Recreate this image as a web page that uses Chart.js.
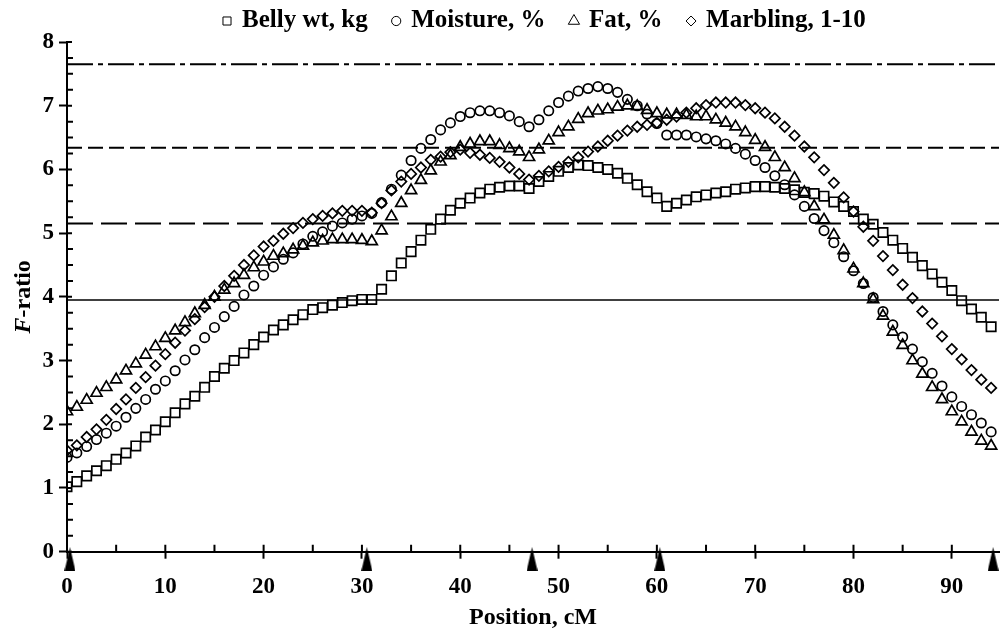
<!DOCTYPE html>
<html>
<head>
<meta charset="utf-8">
<script src="https://cdn.jsdelivr.net/npm/chart.js@4.4.1/dist/chart.umd.min.js"></script>
<style>
  html, body { margin: 0; padding: 0; background: #fff; }
</style>
</head>
<body>
<canvas id="chart" width="1000" height="633"></canvas>
<script>
// positions along the chromosome, cM
const positions = [0,1,2,3,4,5,6,7,8,9,10,11,12,13,14,15,16,17,18,19,20,21,22,23,24,25,26,27,28,29,
  30,31,32,33,34,35,36,37,38,39,40,41,42,43,44,45,46,47,48,49,50,51,52,53,54,55,56,57,58,59,
  60,61,62,63,64,65,66,67,68,69,70,71,72,73,74,75,76,77,78,79,80,81,82,83,84,85,86,87,88,89,
  90,91,92,93,94];

const bellyWt = [1.02,1.10,1.19,1.27,1.35,1.45,1.55,1.66,1.80,1.91,
  2.04,2.18,2.32,2.44,2.58,2.75,2.88,3.00,3.12,3.25,
  3.37,3.48,3.56,3.64,3.72,3.80,3.83,3.87,3.91,3.94,
  3.96,3.96,4.12,4.33,4.53,4.71,4.89,5.06,5.22,5.36,
  5.47,5.55,5.63,5.69,5.72,5.74,5.74,5.70,5.81,5.89,
  5.97,6.03,6.07,6.06,6.03,6.00,5.94,5.86,5.76,5.65,
  5.55,5.42,5.47,5.52,5.57,5.60,5.63,5.65,5.69,5.71,
  5.73,5.73,5.72,5.70,5.68,5.64,5.62,5.58,5.49,5.42,
  5.34,5.22,5.14,5.01,4.89,4.76,4.62,4.49,4.36,4.23,
  4.10,3.94,3.81,3.68,3.53];

const moisture = [1.48,1.55,1.65,1.76,1.86,1.97,2.11,2.25,2.39,2.55,
  2.68,2.84,3.01,3.17,3.36,3.52,3.69,3.85,4.03,4.17,
  4.34,4.47,4.59,4.69,4.83,4.95,5.02,5.11,5.16,5.22,
  5.27,5.31,5.48,5.69,5.91,6.14,6.33,6.47,6.62,6.73,
  6.83,6.89,6.92,6.92,6.89,6.84,6.75,6.67,6.78,6.92,
  7.05,7.15,7.23,7.27,7.30,7.27,7.21,7.10,7.00,6.87,
  6.72,6.54,6.54,6.54,6.51,6.48,6.45,6.40,6.33,6.24,
  6.14,6.03,5.90,5.76,5.60,5.42,5.23,5.04,4.85,4.63,
  4.41,4.21,3.99,3.77,3.56,3.37,3.18,2.98,2.80,2.60,
  2.43,2.28,2.15,2.02,1.88];

const fat = [2.20,2.27,2.38,2.49,2.58,2.70,2.84,2.95,3.09,3.22,
  3.35,3.47,3.60,3.74,3.87,4.00,4.11,4.21,4.34,4.46,
  4.55,4.64,4.68,4.74,4.80,4.85,4.88,4.90,4.90,4.90,
  4.89,4.87,5.04,5.26,5.47,5.67,5.83,5.98,6.12,6.22,
  6.35,6.40,6.44,6.44,6.38,6.33,6.28,6.19,6.31,6.45,
  6.58,6.67,6.79,6.88,6.92,6.94,6.98,7.00,6.99,6.93,
  6.88,6.86,6.86,6.85,6.83,6.83,6.78,6.73,6.67,6.58,
  6.46,6.35,6.19,6.03,5.86,5.64,5.42,5.21,4.97,4.73,
  4.44,4.21,3.96,3.70,3.45,3.24,3.00,2.79,2.58,2.39,
  2.20,2.04,1.88,1.74,1.66];

const marbling = [1.59,1.67,1.80,1.92,2.07,2.24,2.39,2.57,2.74,2.92,
  3.10,3.28,3.47,3.65,3.84,4.00,4.17,4.33,4.50,4.65,
  4.79,4.88,4.99,5.08,5.16,5.22,5.27,5.31,5.35,5.35,
  5.35,5.32,5.47,5.67,5.81,5.93,6.03,6.15,6.20,6.27,
  6.31,6.26,6.23,6.18,6.12,6.03,5.93,5.84,5.90,5.97,
  6.04,6.12,6.19,6.28,6.36,6.45,6.53,6.61,6.67,6.70,
  6.73,6.78,6.83,6.89,6.96,7.01,7.05,7.05,7.05,7.01,
  6.96,6.89,6.80,6.67,6.53,6.36,6.19,5.99,5.79,5.56,
  5.34,5.10,4.88,4.64,4.42,4.19,3.98,3.77,3.58,3.38,
  3.18,3.02,2.85,2.70,2.57];

// significance thresholds (F-ratio)
const thresholds = [3.95, 5.15, 6.34, 7.65];
// marker positions drawn under the x axis
const markerPos = [0.3, 30.5, 47.3, 60.3, 94.2];
const xMax = 94.8;

const serif = '"Liberation Serif", "Times New Roman", serif';
const pts = arr => arr.map((v, i) => ({x: positions[i], y: v}));

// tall filled triangle for the marker symbols
const markerImg = document.createElement('canvas');
markerImg.width = 11;
markerImg.height = 24;
(() => {
  const c = markerImg.getContext('2d');
  c.fillStyle = '#000';
  c.beginPath();
  c.moveTo(5.5, 0);
  c.lineTo(11, 24);
  c.lineTo(0, 24);
  c.closePath();
  c.fill();
})();

function series(label, data, style, radius) {
  return {
    label: label,
    data: pts(data),
    showLine: false,
    pointStyle: style,
    pointRadius: radius,
    borderColor: '#000',
    backgroundColor: 'rgba(0,0,0,0)',
    borderWidth: 1.7,
    inLegend: true
  };
}

const dashes = [[], [26, 8], [15, 6], [26, 5, 5, 5]];
const lineSets = thresholds.map((t, i) => ({
  label: 'thr' + i,
  data: [{x: 0, y: t}, {x: xMax, y: t}],
  showLine: true,
  pointRadius: 0,
  borderColor: '#000',
  borderWidth: i === 0 ? 1.4 : 2,
  borderDash: dashes[i],
  fill: false
}));

// points below the axis need a big radius, or chart.js skips them as "outside the area"
const markerSet = {
  label: 'markers',
  data: markerPos.map(p => ({x: p, y: -0.115})),
  showLine: false,
  pointStyle: markerImg,
  pointRadius: 14,
  borderWidth: 0,
  clip: false
};

// ticks inside the axes + minor ticks
const innerTicks = {
  id: 'innerTicks',
  afterDraw(chart) {
    const {ctx, scales: {x, y}} = chart;
    ctx.save();
    ctx.strokeStyle = '#000';
    ctx.lineWidth = 2;
    ctx.beginPath();
    for (let v = 0; v <= 8; v += 0.25) {
      const py = y.getPixelForValue(v);
      const major = Math.abs(v - Math.round(v)) < 1e-6;
      ctx.moveTo(x.left, py);
      ctx.lineTo(x.left + (major ? 5 : 6), py);
    }
    for (let v = 0; v <= 90; v += 5) {
      const px = x.getPixelForValue(v);
      ctx.moveTo(px, y.bottom);
      ctx.lineTo(px, y.bottom - 7);
    }
    ctx.stroke();
    ctx.restore();
  }
};

const yTitle = {
  id: 'yTitle',
  afterDraw(chart) {
    const {ctx, chartArea} = chart;
    const f1 = 'italic bold 24px ' + serif;
    const f2 = 'bold 24px ' + serif;
    ctx.save();
    ctx.translate(24, (chartArea.top + chartArea.bottom) / 2);
    ctx.rotate(-Math.PI / 2);
    ctx.fillStyle = '#000';
    ctx.textBaseline = 'middle';
    ctx.font = f1;
    const w1 = ctx.measureText('F').width;
    ctx.font = f2;
    const w2 = ctx.measureText('-ratio').width;
    const sx = -(w1 + w2) / 2;
    ctx.font = f1;
    ctx.fillText('F', sx, 0);
    ctx.font = f2;
    ctx.fillText('-ratio', sx + w1, 0);
    ctx.restore();
  }
};

const topLegend = {
  id: 'topLegend',
  afterDraw(chart) {
    const ctx = chart.ctx;
    const items = chart.data.datasets.filter(d => d.inLegend);
    const sizes = {rect: 5.7, circle: 4.6, triangle: 6.5, rectRot: 5};
    const gapText = 15, gapItem = 28.5, yc = 21;
    const font = 'bold 25px ' + serif;
    ctx.save();
    let x = 227;
    items.forEach(d => {
      ctx.strokeStyle = '#000';
      ctx.fillStyle = 'rgba(0,0,0,0)';
      Chart.helpers.drawPoint(ctx, {pointStyle: d.pointStyle, radius: sizes[d.pointStyle], borderWidth: 1.6}, x, yc);
      ctx.fillStyle = '#000';
      ctx.textBaseline = 'middle';
      ctx.textAlign = 'left';
      ctx.font = font;
      ctx.fillText(d.label, x + gapText, yc);
      x += gapText + ctx.measureText(d.label).width + gapItem;
    });
    ctx.restore();
  }
};

const tickFont = {family: serif, size: 23, weight: 'bold'};

new Chart(document.getElementById('chart'), {
  type: 'scatter',
  data: {
    datasets: [
      series('Belly wt, kg', bellyWt, 'rect', 6.6),
      series('Moisture, %', moisture, 'circle', 4.7),
      series('Fat, %', fat, 'triangle', 6.4),
      series('Marbling, 1-10', marbling, 'rectRot', 5.2)
    ].concat(lineSets, [markerSet])
  },
  options: {
    responsive: false,
    animation: false,
    events: [],
    // no auto padding for point radius: the plot runs to the right edge
    layout: {autoPadding: false, padding: {top: 42, right: 1, left: 0, bottom: 0}},
    plugins: {
      legend: {display: false},
      tooltip: {enabled: false}
    },
    scales: {
      x: {
        type: 'linear',
        min: 0,
        max: xMax,
        afterFit: s => { s.height = 81.3; s.paddingLeft = 0; s.paddingRight = 0; },
        ticks: {stepSize: 10, includeBounds: false, padding: 15, color: '#000', font: tickFont},
        grid: {drawOnChartArea: false, tickLength: 7, tickWidth: 2, tickColor: '#000'},
        border: {color: '#000', width: 2},
        title: {display: true, text: 'Position, cM', color: '#000',
          font: {family: serif, size: 24, weight: 'bold'}, padding: {top: 0, bottom: 1}}
      },
      y: {
        min: 0,
        max: 8,
        afterFit: s => { s.width = 67; },
        ticks: {stepSize: 1, padding: 5, color: '#000', font: tickFont},
        grid: {drawOnChartArea: false, tickLength: 8, tickWidth: 2, tickColor: '#000'},
        border: {color: '#000', width: 2}
      }
    }
  },
  plugins: [innerTicks, yTitle, topLegend]
});
</script>
</body>
</html>
